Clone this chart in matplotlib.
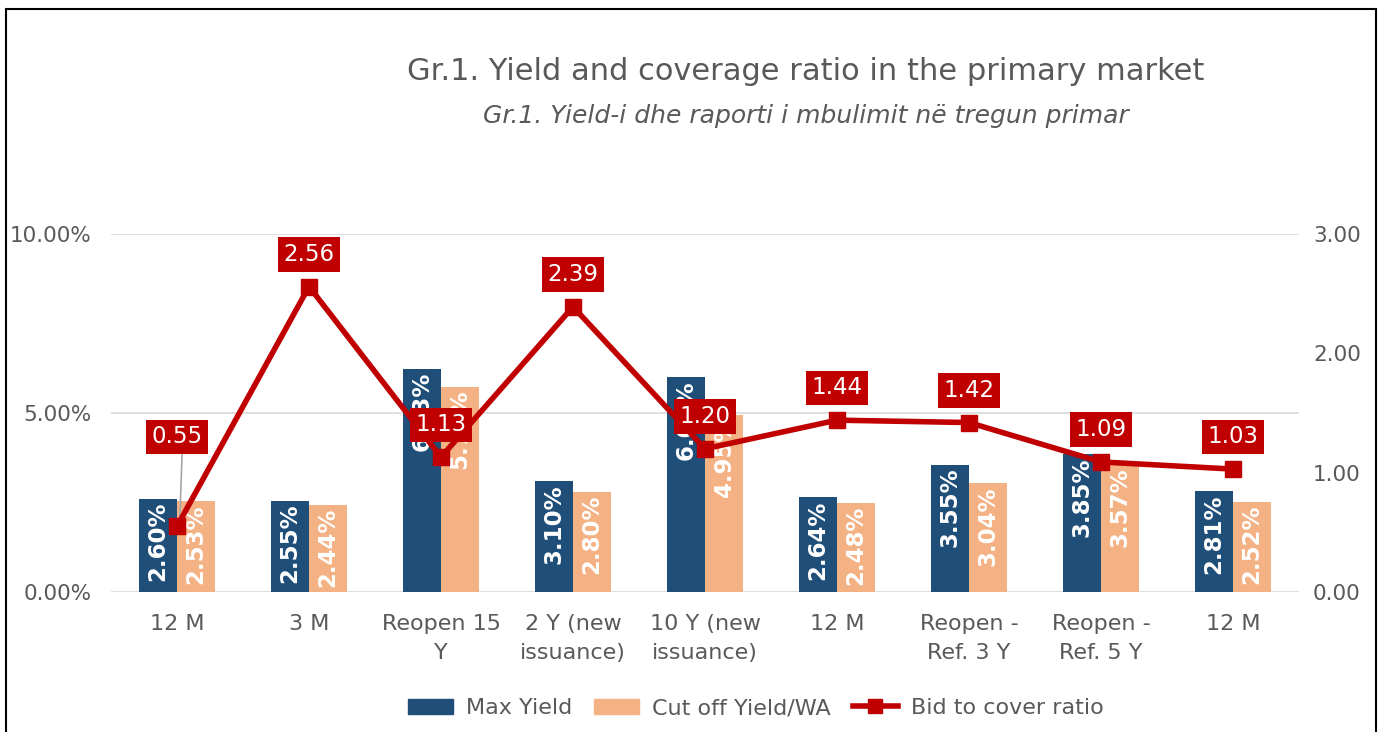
import matplotlib
matplotlib.use("Agg")
import matplotlib.pyplot as plt
import matplotlib.patches as mpatches
from matplotlib.lines import Line2D
import numpy as np

plt.rcParams['font.family'] = ['DejaVu Sans']

categories = ["12 M", "3 M", "Reopen 15\nY", "2 Y (new\nissuance)", "10 Y (new\nissuance)",
              "12 M", "Reopen -\nRef. 3 Y", "Reopen -\nRef. 5 Y", "12 M"]
max_yield = [2.60, 2.55, 6.23, 3.10, 6.00, 2.64, 3.55, 3.85, 2.81]
cutoff_yield = [2.53, 2.44, 5.73, 2.80, 4.95, 2.48, 3.04, 3.57, 2.52]
bid_cover = [0.55, 2.56, 1.13, 2.39, 1.20, 1.44, 1.42, 1.09, 1.03]
left_ticks = [0, 5, 10]
left_tick_labels = ["0.00%", "5.00%", "10.00%"]
right_ticks = [0, 1, 2, 3]
right_tick_labels = ["0.00", "1.00", "2.00", "3.00"]

c_max = "#1F4E79"
c_cut = "#F4B183"
c_line = "#C00000"
c_text = "#595959"

W, H = 1382, 732
fig = plt.figure(figsize=(W / 100, H / 100), dpi=100)
ax = fig.add_axes([111 / W, 1 - 592 / H, (1299 - 111) / W, (592 - 234) / H])

x = np.arange(len(categories))
bw = 0.288
ax.bar(x - bw / 2, max_yield, bw, color=c_max, zorder=2, label="Max Yield")
ax.bar(x + bw / 2, cutoff_yield, bw, color=c_cut, zorder=2, label="Cut off Yield/WA")

for xi, v in zip(x, max_yield):
    ax.text(xi - bw / 2, v - 0.08, f"{v:.2f}%", rotation=90, ha="center", va="top",
            color="white", fontsize=16.5, fontweight="bold", zorder=3)
for xi, v in zip(x, cutoff_yield):
    ax.text(xi + bw / 2, v - 0.08, f"{v:.2f}%", rotation=90, ha="center", va="top",
            color="white", fontsize=16.5, fontweight="bold", zorder=3)

ax.set_xlim(-0.5, len(categories) - 0.5)
ax.set_ylim(0, 10)
ax.set_yticks(left_ticks)
ax.set_yticklabels(left_tick_labels)
ax.set_xticks(x)
ax.set_xticklabels(categories)
ax.grid(axis="y", color="#D9D9D9", lw=1.2, zorder=0)
ax.set_axisbelow(True)
for s in ax.spines.values():
    s.set_visible(False)
ax.tick_params(axis="y", length=0, colors=c_text, labelsize=15.5, pad=14)
ax.tick_params(axis="x", length=0, colors=c_text, labelsize=16, pad=16)
for t in ax.get_xticklabels():
    t.set_linespacing(1.55)

ax2 = ax.twinx()
ax2.set_ylim(0, 3)
ax2.set_yticks(right_ticks)
ax2.set_yticklabels(right_tick_labels)
ax2.tick_params(axis="y", length=0, colors=c_text, labelsize=15.5, pad=10)
for s in ax2.spines.values():
    s.set_visible(False)
ax2.plot(x, bid_cover, color=c_line, lw=4, marker="s", markersize=11, zorder=5,
         label="Bid to cover ratio")

for i, (xi, v) in enumerate(zip(x, bid_cover)):
    if i == 0:
        ty = v + 0.75
        ax2.plot([xi + 0.02, xi + 0.04], [v + 0.02, ty - 0.1], color="#A6A6A6", lw=1.2, zorder=4)
    else:
        ty = v + 0.27
    ax2.text(xi, ty, f"{v:.2f}", ha="center", va="center", color="white", fontsize=16.5,
             zorder=7, clip_on=False,
             bbox=dict(boxstyle="square,pad=0.25", fc=c_line, ec="none"))

fig.text(806 / W, 1 - 72 / H, "Gr.1. Yield and coverage ratio in the primary market",
         ha="center", va="center", fontsize=22, color=c_text)
fig.text(806 / W, 1 - 116 / H, "Gr.1. Yield-i dhe raporti i mbulimit në tregun primar",
         ha="center", va="center", fontsize=18, color=c_text, style="italic")

handles = [mpatches.Patch(color=c_max, label="Max Yield"),
           mpatches.Patch(color=c_cut, label="Cut off Yield/WA"),
           Line2D([0], [0], color=c_line, lw=4, marker="s", markersize=10, label="Bid to cover ratio")]
fig.legend(handles=handles, loc="center", bbox_to_anchor=(756 / W, 1 - 708 / H), ncol=3,
           frameon=False, fontsize=16, labelcolor=c_text, handlelength=2.0,
           handleheight=0.65, columnspacing=1.0, handletextpad=0.6)

border = mpatches.Rectangle((6 / W, -0.05), (1376 - 6) / W, 1.05 - 9 / H, transform=fig.transFigure,
                            fill=False, ec="black", lw=1.5)
fig.patches.append(border)

fig.savefig("out.png", dpi=100)
